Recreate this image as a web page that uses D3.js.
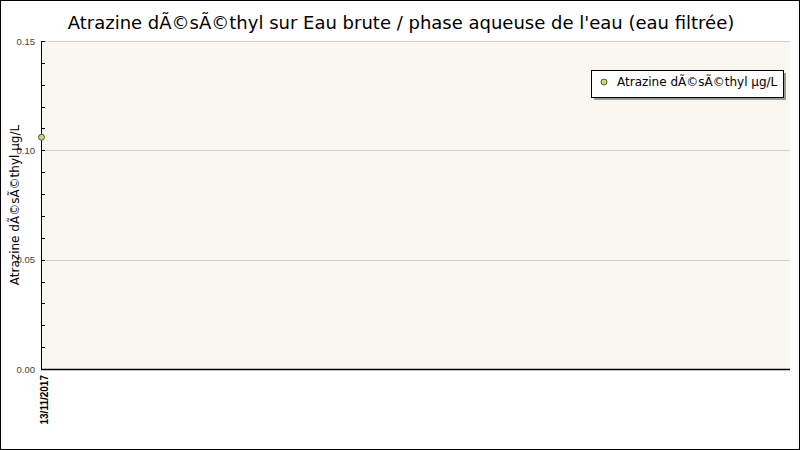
<!DOCTYPE html>
<html>
<head>
<meta charset="utf-8">
<script src="https://cdn.jsdelivr.net/npm/d3@7"></script>
<style>
  body { margin: 0; background: #fff; }
  svg { display: block; }
</style>
</head>
<body>
<svg id="chart" width="800" height="450"></svg>
<script>
// Data
const dates = ["13/11/2017"];
const values = [0.106];
const yTicks = [0, 0.05, 0.10, 0.15];
const seriesName = "Atrazine dÃ©sÃ©thyl µg/L";
const title = "Atrazine dÃ©sÃ©thyl sur Eau brute / phase aqueuse de l'eau (eau filtrée)";
const yLabel = "Atrazine dÃ©sÃ©thyl µg/L";

const width = 800, height = 450;
const margin = { top: 41, right: 10, bottom: 81, left: 41 };
const plotW = width - margin.left - margin.right;
const plotH = height - margin.top - margin.bottom;

const svg = d3.select("#chart");

// outer frame
svg.append("rect")
  .attr("x", 0.5).attr("y", 0.5)
  .attr("width", width - 1).attr("height", height - 1)
  .attr("fill", "#fff").attr("stroke", "#000");

const x = d3.scalePoint().domain(dates).range([0, plotW]).padding(0).align(0);
const y = d3.scaleLinear().domain([0, 0.15]).range([plotH, 0]);

const g = svg.append("g").attr("transform", `translate(${margin.left},${margin.top})`);

// plot background
g.append("rect")
  .attr("width", plotW).attr("height", plotH)
  .attr("fill", "#f8f8f0");

// grid lines
g.selectAll(".grid").data(yTicks.filter(d => d > 0))
  .enter().append("line")
  .attr("x1", 0).attr("x2", plotW)
  .attr("y1", d => Math.round(y(d)) + 0.5).attr("y2", d => Math.round(y(d)) + 0.5)
  .attr("stroke", "#d0d0d0");

// minor ticks
const minor = d3.range(0, 0.1501, 0.01);
g.selectAll(".minor").data(minor)
  .enter().append("line")
  .attr("x1", 0).attr("x2", 4)
  .attr("y1", d => Math.round(y(d)) + 0.5).attr("y2", d => Math.round(y(d)) + 0.5)
  .attr("stroke", "#000");

// y axis
const yAxis = g.append("g")
  .call(d3.axisLeft(y).tickValues(yTicks).tickFormat(d3.format(".2f")).tickSize(0).tickPadding(6));
yAxis.select(".domain").remove();
yAxis.selectAll("text")
  .attr("font-family", "Liberation Sans, Arial, sans-serif")
  .attr("font-size", 9.5)
  .attr("fill", "#444");

// axis lines
g.append("line").attr("x1", 0.5).attr("x2", 0.5).attr("y1", 0).attr("y2", plotH)
  .attr("stroke", "#000");
g.append("line").attr("x1", 0).attr("x2", plotW).attr("y1", plotH + 0.5).attr("y2", plotH + 0.5)
  .attr("stroke", "#000").attr("stroke-width", 1.5);

// x axis labels
g.selectAll(".xlab").data(dates)
  .enter().append("text")
  .attr("transform", d => `translate(${x(d) + 7},${plotH + 6}) rotate(-90)`)
  .attr("text-anchor", "end")
  .attr("font-family", "Liberation Sans, Arial, sans-serif")
  .attr("font-weight", "bold")
  .attr("font-size", 10)
  .attr("fill", "#000")
  .text(d => d);

// points
g.selectAll(".pt").data(values)
  .enter().append("circle")
  .attr("cx", (d, i) => x(dates[i]) + 0.5)
  .attr("cy", d => y(d))
  .attr("r", 3)
  .attr("fill", "#c8d86a")
  .attr("stroke", "#333")
  .attr("stroke-width", 0.8);

// title
svg.append("text")
  .attr("x", 401).attr("y", 29)
  .attr("text-anchor", "middle")
  .attr("font-family", "DejaVu Sans, sans-serif")
  .attr("font-size", 18)
  .attr("fill", "#000")
  .text(title);

// y axis title
svg.append("text")
  .attr("transform", `translate(19,${margin.top + plotH / 2}) rotate(-90)`)
  .attr("text-anchor", "middle")
  .attr("font-family", "DejaVu Sans, sans-serif")
  .attr("font-size", 12)
  .attr("fill", "#000")
  .text(yLabel);

// legend
const lg = svg.append("g").attr("transform", "translate(591,70)");
lg.append("rect").attr("x", 3).attr("y", 3).attr("width", 192).attr("height", 27).attr("fill", "#999");
lg.append("rect").attr("x", 0.5).attr("y", 0.5).attr("width", 192).attr("height", 27)
  .attr("fill", "#fff").attr("stroke", "#000");
lg.append("circle").attr("cx", 13).attr("cy", 12).attr("r", 3)
  .attr("fill", "#c8d86a").attr("stroke", "#333").attr("stroke-width", 0.8);
lg.append("text").attr("x", 26).attr("y", 16)
  .attr("font-family", "DejaVu Sans, sans-serif")
  .attr("font-size", 12)
  .attr("fill", "#000")
  .text(seriesName);
</script>
</body>
</html>
